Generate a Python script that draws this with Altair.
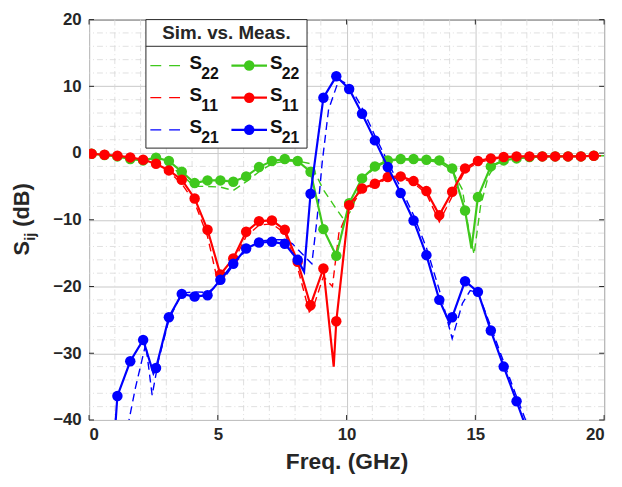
import altair as alt
import pandas as pd

# ---------------- data ----------------
marker_freq = [0.1, 0.6, 1.1, 1.6, 2.1, 2.6, 3.1, 3.6, 4.1, 4.6,
               5.1, 5.6, 6.1, 6.6, 7.1, 7.6, 8.1, 8.6, 9.1, 9.6,
               10.1, 10.6, 11.1, 11.6, 12.1, 12.6, 13.1, 13.6, 14.1, 14.6,
               15.1, 15.6, 16.1, 16.6, 17.1, 17.6, 18.1, 18.6, 19.1, 19.6]

meas_s22 = [-0.1, -0.3, -0.5, -0.9, -1.1, -0.7, -1.2, -2.8, -4.5, -4.1,
            -4.1, -4.3, -3.5, -2.1, -1.2, -0.9, -1.2, -2.8, -11.4, -15.4,
            -7.5, -3.8, -2.0, -1.1, -0.9, -0.9, -1.0, -1.1, -2.3, -8.6,
            -6.6, -2.0, -1.1, -0.8, -0.6, -0.5, -0.5, -0.5, -0.5, -0.4]

meas_s11 = [-0.1, -0.25, -0.4, -0.65, -1.0, -1.6, -2.6, -4.0, -6.8, -11.5,
            -18.2, -15.8, -11.8, -10.2, -10.1, -11.5, -16.3, -22.8, -17.3, -25.2,
            -7.8, -5.3, -4.6, -3.6, -3.5, -4.2, -5.7, -9.3, -5.8, -2.3,
            -1.2, -0.8, -0.6, -0.5, -0.5, -0.5, -0.5, -0.5, -0.5, -0.4]

meas_s21_freq = [1.1, 1.6, 2.1, 2.6, 3.1, 3.6, 4.1, 4.6,
                 5.1, 5.6, 6.1, 6.6, 7.1, 7.6, 8.1, 8.6, 9.1, 9.6,
                 10.1, 10.6, 11.1, 11.6, 12.1, 12.6, 13.1, 13.6, 14.1, 14.6,
                 15.1, 15.6, 16.1, 16.6, 17.1]
meas_s21 = [-36.4, -31.2, -28.0, -32.2, -24.6, -21.1, -21.5, -21.3,
            -19.0, -16.6, -14.3, -13.4, -13.3, -13.6, -16.0, -6.1, 8.3, 11.5,
            9.6, 5.9, 1.9, -2.1, -6.0, -10.1, -15.3, -22.0, -24.6, -19.2,
            -20.8, -26.6, -32.0, -37.2, -42.5]

# extra points of the measured traces between markers (dips)
meas_s22_extra_f = [14.85]
meas_s22_extra = [-14.3]
meas_s11_extra_f = [9.5]
meas_s11_extra = [-32.0]
meas_s21_extra_f = [1.0, 2.5, 8.35, 14.0]
meas_s21_extra = [-42.0, -33.0, -17.8, -25.5]

sim_s22_f = [0, 1, 2, 3, 3.6, 4.1, 4.6, 5.1, 5.6, 6.1, 6.6, 7.1, 7.6, 8.1, 8.6,
             9.1, 9.5, 9.9, 10.2, 10.5, 10.8, 11.2, 11.6, 12.1, 13.1, 13.6,
             14.1, 14.5, 14.7, 14.95, 15.2, 15.5, 15.8, 16.2, 17, 18, 19, 20]
sim_s22 = [0, -0.5, -1.0, -1.4, -3.3, -5.0, -5.0, -5.1, -5.6, -4.3, -2.8, -1.6, -1.2, -1.2, -1.6,
           -5.5, -7.8, -10.0, -8.5, -5.0, -3.2, -2.0, -1.2, -1.0, -1.1, -1.4,
           -2.6, -5.5, -10.5, -15.2, -8.0, -3.5, -1.6, -1.0, -0.7, -0.5, -0.5, -0.4]

sim_s11_f = [0, 1, 2, 2.6, 3.1, 3.6, 4.1, 4.6, 5.0, 5.2, 5.6, 6.1, 6.6, 7.1, 7.6, 8.1,
             8.55, 8.7, 9.1, 9.45, 9.7, 10.1, 10.6, 11.1, 11.6, 12.1, 12.6, 13.1,
             13.6, 14.1, 14.6, 15.1, 16, 17, 18, 19, 20]
sim_s11 = [0, -0.4, -1.0, -1.7, -2.8, -4.6, -7.4, -12.5, -19.3, -19.0, -16.3, -12.5, -10.8, -10.6, -12.0, -17.2,
           -23.8, -23.2, -18.5, -20.0, -12.0, -8.3, -5.6, -4.8, -3.8, -3.7, -4.5, -6.1,
           -10.3, -6.5, -2.6, -1.4, -0.7, -0.5, -0.5, -0.5, -0.4]

sim_s21_f = [1.5, 1.8, 2.2, 2.45, 2.7, 3.1, 3.6, 4.1, 4.6, 5.1, 5.6, 6.1, 6.6, 7.1, 7.6,
             7.9, 8.3, 8.65, 8.85, 9.05, 9.3, 9.7, 10.1, 10.6, 11.1, 11.6, 12.1, 12.6,
             13.1, 13.6, 14.1, 14.5, 14.8, 15.1, 15.6, 16.1, 16.6, 17.2]
sim_s21 = [-41.0, -35.2, -28.6, -36.3, -31.0, -25.0, -21.0, -20.8, -20.9, -19.5, -16.8, -14.5, -13.2, -13.0, -13.0,
           -13.6, -15.2, -16.6, -10.0, -1.5, 6.5, 11.0, 10.2, 6.8, 2.6, -1.3, -5.2, -9.3,
           -14.2, -20.5, -27.8, -22.5, -20.6, -20.9, -26.0, -31.3, -36.5, -42.5]

major_x = [0, 5, 10, 15, 20]
major_y = [-40, -30, -20, -10, 0, 10, 20]
minor_x = [1, 2, 3, 4, 6, 7, 8, 9, 11, 12, 13, 14, 16, 17, 18, 19]
minor_y = [18, 16, 14, 12, 8, 6, 4, 2, -2, -4, -6, -8, -12, -14, -16, -18,
           -22, -24, -26, -28, -32, -34, -36, -38]

series_names = ["22", "11", "21"]
series_colors = ["#3fc81c", "#ff0000", "#0000ff"]

# ---------------- styling ----------------
W, H = 521, 405
FONT = "Liberation Sans"
AX = "#262626"

X = alt.X("f:Q", scale=alt.Scale(domain=[0, 20], nice=False, zero=False),
          axis=alt.Axis(values=major_x, grid=True, ticks=False, domain=False,
                        labelFontSize=17, labelFontWeight="bold", labelPadding=7,
                        labelColor=AX, labelFont=FONT,
                        title="Freq. (GHz)", titleFontSize=23, titleFontWeight="bold",
                        titleColor=AX, titleFont=FONT, titlePadding=8))
Y = alt.Y("db:Q", scale=alt.Scale(domain=[-40, 20], nice=False, zero=False),
          axis=alt.Axis(values=major_y, grid=True, ticks=False, domain=False,
                        labelFontSize=17, labelFontWeight="bold", labelPadding=8,
                        labelColor=AX, labelFont=FONT, title=None))


def df(fs, vs):
    return pd.DataFrame({"f": fs, "db": vs})


one = pd.DataFrame({"a": [0]})
layers = []

# minor grid
layers.append(alt.Chart(pd.DataFrame({"f": minor_x})).mark_rule(
    color="#d8d8d8", strokeWidth=0.8, strokeDash=[6, 3, 1, 3]).encode(x=X))
layers.append(alt.Chart(pd.DataFrame({"db": minor_y})).mark_rule(
    color="#d8d8d8", strokeWidth=0.8, strokeDash=[6, 3, 1, 3]).encode(y=Y))

# inward ticks
tx = pd.DataFrame({"f": major_x})
ty = pd.DataFrame({"db": major_y})
layers.append(alt.Chart(tx).mark_rule(color=AX).encode(x=X, y=alt.value(H), y2=alt.value(H - 5)))
layers.append(alt.Chart(tx).mark_rule(color=AX).encode(x=X, y=alt.value(0), y2=alt.value(5)))
layers.append(alt.Chart(ty).mark_rule(color=AX).encode(y=Y, x=alt.value(0), x2=alt.value(5)))
layers.append(alt.Chart(ty).mark_rule(color=AX).encode(y=Y, x=alt.value(W), x2=alt.value(W - 5)))

# simulated (dashed)
for fs, vs, c in [(sim_s22_f, sim_s22, series_colors[0]),
                  (sim_s11_f, sim_s11, series_colors[1]),
                  (sim_s21_f, sim_s21, series_colors[2])]:
    layers.append(alt.Chart(df(fs, vs)).mark_line(
        color=c, strokeWidth=1.4, strokeDash=[8, 5], clip=True).encode(x=X, y=Y))

# measured (solid + markers)
for mf, mv, ef, ev, c in [(marker_freq, meas_s22, meas_s22_extra_f, meas_s22_extra, series_colors[0]),
                          (marker_freq, meas_s11, meas_s11_extra_f, meas_s11_extra, series_colors[1]),
                          (meas_s21_freq, meas_s21, meas_s21_extra_f, meas_s21_extra, series_colors[2])]:
    line = pd.concat([df(mf, mv), df(ef, ev)]).sort_values("f")
    layers.append(alt.Chart(line).mark_line(color=c, strokeWidth=2.2, clip=True).encode(x=X, y=Y))
    layers.append(alt.Chart(df(mf, mv)).mark_point(
        filled=True, color=c, size=112, opacity=1, clip=True).encode(x=X, y=Y))

# ---------------- legend (manual, inside the plot) ----------------
LX0, LX1, LY1, LSEP = 57.5, 220.5, 130, 27
layers.append(alt.Chart(one).mark_rect(fill="white", stroke=AX, strokeWidth=1).encode(
    x=alt.value(LX0), x2=alt.value(LX1), y=alt.value(0), y2=alt.value(LY1)))
layers.append(alt.Chart(one).mark_rule(color=AX, strokeWidth=1).encode(
    x=alt.value(LX0), x2=alt.value(LX1), y=alt.value(LSEP)))
layers.append(alt.Chart(one).mark_text(
    text="Sim. vs. Meas.", font=FONT, fontSize=19, fontWeight="bold", color=AX,
    align="center", baseline="middle").encode(x=alt.value((LX0 + LX1) / 2), y=alt.value(14)))

for r, (nm, c) in enumerate(zip(series_names, series_colors)):
    ly = 46.5 + 32.5 * r
    layers.append(alt.Chart(one).mark_rule(color=c, strokeWidth=1.3, strokeDash=[11, 8]).encode(
        x=alt.value(62), x2=alt.value(94), y=alt.value(ly)))
    layers.append(alt.Chart(one).mark_rule(color=c, strokeWidth=2.2).encode(
        x=alt.value(144), x2=alt.value(180), y=alt.value(ly)))
    layers.append(alt.Chart(one).mark_point(filled=True, color=c, size=112, opacity=1).encode(
        x=alt.value(162), y=alt.value(ly)))
    for sx in (101.5, 183):
        layers.append(alt.Chart(one).mark_text(
            text="S", font=FONT, fontSize=19, fontWeight="bold", color="#111111",
            align="left", baseline="middle").encode(x=alt.value(sx), y=alt.value(ly - 3)))
        layers.append(alt.Chart(one).mark_text(
            text=nm, font=FONT, fontSize=16, fontWeight="bold", color="#111111",
            align="left", baseline="middle").encode(x=alt.value(sx + 12), y=alt.value(ly + 8.5)))

# ---------------- y-axis title  S_ij (dB) ----------------
layers.append(alt.Chart(one).mark_text(
    text="S", font=FONT, fontSize=22, fontWeight="bold", color=AX, angle=270,
    align="left", baseline="middle").encode(x=alt.value(-68), y=alt.value(238.5)))
layers.append(alt.Chart(one).mark_text(
    text="ij", font=FONT, fontSize=15, fontWeight="bold", color=AX, angle=270,
    align="left", baseline="middle").encode(x=alt.value(-60), y=alt.value(223.8)))
layers.append(alt.Chart(one).mark_text(
    text="(dB)", font=FONT, fontSize=22, fontWeight="bold", color=AX, angle=270,
    align="left", baseline="middle").encode(x=alt.value(-68), y=alt.value(209.5)))

chart = alt.layer(*layers).properties(
    width=W, height=H,
    autosize=alt.AutoSizeParams(type="none"),
    padding={"left": 82, "top": 9, "right": 10, "bottom": 60},
    background="white",
).configure_view(stroke=AX, strokeWidth=1).configure_axis(
    gridColor="#c8c8c8", gridWidth=1)

chart.save("out.html", embed_options={"renderer": "svg", "actions": False})
